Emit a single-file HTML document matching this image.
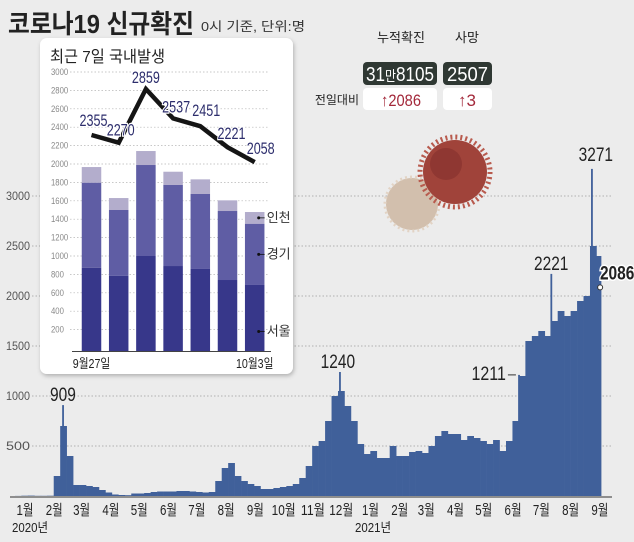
<!DOCTYPE html>
<html><head><meta charset="utf-8"><style>
html,body{margin:0;padding:0;background:#ececec;}
svg{display:block;font-family:"Liberation Sans","Noto Sans CJK KR",sans-serif;}
.kr{font-family:"Liberation Sans","Noto Sans CJK KR",sans-serif;}
</style></head><body>
<svg id="chart" width="634" height="542" viewBox="0 0 634 542" xmlns="http://www.w3.org/2000/svg">
<rect x="0" y="0" width="634" height="542" fill="#ececec"/>
<text class="kr" x="8" y="33" font-size="26" font-weight="bold" fill="#222" textLength="186" lengthAdjust="spacingAndGlyphs">코로나19 신규확진</text>
<text class="kr" x="201" y="31" font-size="13" fill="#333" textLength="104" lengthAdjust="spacingAndGlyphs">0시 기준, 단위:명</text>
<g id="grid"></g>
<g id="bars"></g>
<g id="xaxis"></g>
<g id="peaks"></g>
<g>
<circle cx="412" cy="204" r="26" fill="#d2bfad"/>
<circle cx="412" cy="204" r="27" fill="none" stroke="#e2d3c4" stroke-width="3" stroke-dasharray="2 3"/>
<circle cx="455" cy="172" r="32" fill="#a0433a"/>
<circle cx="455" cy="172" r="35" fill="none" stroke="#b85a4d" stroke-width="5" stroke-dasharray="2 3"/>
<circle cx="446" cy="164" r="16" fill="#7d2c2a" opacity="0.5"/>
</g>
<g>
<text class="kr" x="401" y="42" font-size="13" fill="#222" text-anchor="middle">누적확진</text>
<text class="kr" x="467" y="42" font-size="13" fill="#222" text-anchor="middle">사망</text>
<rect x="363" y="62" width="74" height="23" rx="4" fill="#2f3833"/>
<text x="366" y="81" font-size="20" fill="#fff" textLength="68" lengthAdjust="spacingAndGlyphs">31<tspan class="kr" font-size="14">만</tspan>8105</text>
<rect x="443" y="62" width="49" height="23" rx="4" fill="#2f3833"/>
<text x="447" y="81" font-size="20" fill="#fff" textLength="41" lengthAdjust="spacingAndGlyphs">2507</text>
<text class="kr" x="359" y="104" font-size="12" fill="#222" text-anchor="end">전일대비</text>
<rect x="363" y="88" width="74" height="22" rx="4" fill="#fff"/>
<text x="381" y="106" font-size="17" fill="#a3283a" textLength="40" lengthAdjust="spacingAndGlyphs">↑2086</text>
<rect x="443" y="88" width="49" height="22" rx="4" fill="#fff"/>
<text x="467" y="106" font-size="17" fill="#a3283a" text-anchor="middle">↑3</text>
</g>
<defs><filter id="sh" x="-10%" y="-10%" width="120%" height="120%"><feDropShadow dx="1" dy="2" stdDeviation="2" flood-color="#000" flood-opacity="0.25"/></filter></defs>
<rect x="40" y="38" width="253" height="336" rx="7" fill="#fff" filter="url(#sh)"/>
<text class="kr" x="50" y="62" font-size="16" fill="#222" textLength="115" lengthAdjust="spacingAndGlyphs">최근 7일 국내발생</text>
<g id="inset"></g>
</svg>
<script>
// ---- main chart data ----
const weekStartDays = [];
const weeklyCases = [0,1,3,4,2,2,3,200,700,400,110,110,100,90,60,35,15,10,8,25,25,30,40,45,45,45,50,50,45,40,35,40,150,280,330,200,150,120,100,70,70,80,90,100,120,180,300,500,550,750,1000,1050,900,750,520,420,450,380,380,500,400,400,440,450,430,500,600,650,620,620,560,600,580,550,520,560,450,550,750,1200,1550,1600,1650,1600,1750,1850,1800,1850,1950,2000,2500,2400];
for (let i = 0; i < weeklyCases.length; i++) weekStartDays.push(i * 7);
const peakDays = [59, 359, 553, 588, 632, 641];
const peakValues = [909, 1240, 1211, 2221, 3271, 2086];
const yTicks = [500, 1000, 1500, 2000, 2500, 3000];
const monthLabels = ['1월','2월','3월','4월','5월','6월','7월','8월','9월','10월','11월','12월','1월','2월','3월','4월','5월','6월','7월','8월','9월'];
const monthStartDays = [0,31,60,91,121,152,182,213,244,274,305,335,366,397,425,456,486,517,547,578,609];
const lastDay = 641;
// ---- inset data ----
const insetDates = ['9월27일','','','','','','10월3일'];
const seoul = [873,786,1000,891,859,739,685];
const gyeonggi = [924,714,989,881,815,750,666];
const incheon = [170,130,152,144,159,116,127];
const domestic = [2355,2270,2859,2537,2451,2221,2058];
const insetTicks = [200,400,600,800,1000,1200,1400,1600,1800,2000,2200,2400,2600,2800,3000];

const NS = 'http://www.w3.org/2000/svg';
function mk(tag, attrs, parent, txt){const e=document.createElementNS(NS,tag);for(const k in attrs)e.setAttribute(k,attrs[k]);if(txt!==undefined)e.textContent=txt;parent.appendChild(e);return e;}
const X = d => 8.5 + d * 0.923;
const Y = v => 496 - v * 0.1;
const LX = d => 25 + d * 0.944;

const grid = document.getElementById('grid');
yTicks.forEach(t=>{
  const l=mk('line',{x1:32,x2:612,y1:Y(t),y2:Y(t),stroke:'#9a9a9a','stroke-width':0.8,'stroke-dasharray':'1.5 2'},grid);
  
  
  const tx=mk('text',{x:30,y:Y(t)+4,'font-size':12,fill:'#555','text-anchor':'end',textLength:24,lengthAdjust:'spacingAndGlyphs'},grid,String(t));
  
  
});

const bars = document.getElementById('bars');
weeklyCases.forEach((v,i)=>{
  const d0=weekStartDays[i], d1=Math.min(d0+7,lastDay+1);
  const r=mk('rect',{x:X(d0),y:Y(v),width:X(d1)-X(d0)+0.3,height:Y(0)-Y(v),fill:'#40609a'},bars);
  
  
});
peakDays.forEach((d,i)=>{
  const r=mk('rect',{x:X(d)-0.8,y:Y(peakValues[i]),width:1.8,height:Y(0)-Y(peakValues[i]),fill:'#40609a'},bars);
  
  
});

const xa=document.getElementById('xaxis');
const ax=mk('line',{x1:10,x2:612,y1:497,y2:497,stroke:'#555','stroke-width':1.2},xa);


monthLabels.forEach((m,i)=>{
  const w = m.length>2 ? 24 : 17;
  const t=mk('text',{x:LX(monthStartDays[i])-w/2,y:515,'font-size':15,fill:'#222',textLength:w,lengthAdjust:'spacingAndGlyphs'},xa,m);
  
  
});
const y1=mk('text',{x:12,y:532,'font-size':13,fill:'#222',textLength:36,lengthAdjust:'spacingAndGlyphs'},xa,'2020년');


const y2=mk('text',{x:355,y:532,'font-size':13,fill:'#222',textLength:36,lengthAdjust:'spacingAndGlyphs'},xa,'2021년');



const pk=document.getElementById('peaks');
const pOff=[[0,-4],[-2,-4],[-13,5],[0,-4],[4,-8],[17,-8]];
peakDays.forEach((d,i)=>{
  const v=peakValues[i];
  const s=String(v), w=s.length*8.6;
  let xx=X(d)+pOff[i][0]-w/2, yy=Y(v)+pOff[i][1];
  if(i===2) xx=X(d)-13-w;
  if(i===5){ const c=mk('circle',{cx:X(d),cy:Y(v),r:2.5,fill:'#fff',stroke:'#333','stroke-width':1},pk);
    
    }
  if(i===2){ const l=mk('line',{x1:X(d)-11,x2:X(d)-3,y1:Y(v),y2:Y(v),stroke:'#333','stroke-width':1},pk);
    
    }
  const t=mk('text',{x:xx,y:yy,'font-size':19,fill:'#222',textLength:w,lengthAdjust:'spacingAndGlyphs'},pk,s);
  if(i===5){t.setAttribute('stroke','#fff');t.setAttribute('stroke-width','3');t.setAttribute('paint-order','stroke');t.setAttribute('font-weight','bold');}
  
  
});

// ---- inset ----
const ins=document.getElementById('inset');
const IY = v => 348 - v * 0.092;
const IX = i => 91.5 + i * 27.2;
const bw = 19.5;
insetTicks.forEach(t=>{
  const l=mk('line',{x1:70,x2:268,y1:IY(t),y2:IY(t),stroke:'#b5b5b5','stroke-width':0.7,'stroke-dasharray':'1.5 2'},ins);
  
  
  const tx=mk('text',{x:51,y:IY(t)+3,'font-size':9,fill:'#888',textLength:String(t).length*4.3,lengthAdjust:'spacingAndGlyphs'},ins,String(t));
  
  
});
seoul.forEach((s,i)=>{
  const g=gyeonggi[i], c=incheon[i];
  const r1=mk('rect',{x:IX(i)-bw/2,y:IY(s),width:bw,height:IY(0)-IY(s)+3,fill:'#37378a'},ins);
  
  
  const r2=mk('rect',{x:IX(i)-bw/2,y:IY(s+g),width:bw,height:IY(s)-IY(s+g),fill:'#5f5da4'},ins);
  
  
  const r3=mk('rect',{x:IX(i)-bw/2,y:IY(s+g+c),width:bw,height:IY(s+g)-IY(s+g+c),fill:'#b3adcc'},ins);
  
  
});
const bl=mk('line',{x1:72,x2:271,y1:351.5,y2:351.5,stroke:'#444','stroke-width':1},ins);


insetDates.forEach((d,i)=>{
  if(!d) return;
  const w=d.length*7.5;
  const t=mk('text',{x:IX(i)-w/2,y:368,'font-size':13,fill:'#222',textLength:w,lengthAdjust:'spacingAndGlyphs'},ins,d);
  
  
});
const last=seoul.length-1;
const legY=[IY(seoul[last]+gyeonggi[last]+incheon[last]/2),IY(seoul[last]+gyeonggi[last]/2),IY(seoul[last]/2)+15];
const legN=['인천','경기','서울'];
legN.forEach((n,k)=>{
  const c=mk('circle',{cx:IX(last)+4,cy:legY[k],r:1.5,fill:'#111'},ins);
  
  
  const l=mk('line',{x1:IX(last)+4,x2:IX(last)+10,y1:legY[k],y2:legY[k],stroke:'#111','stroke-width':0.8},ins);
  
  
  const t=mk('text',{x:IX(last)+12,y:legY[k]+4,'font-size':13,fill:'#333',class:'kr'},ins,n);
  
  
});
const LY = v => 350 - v * 0.0913;
let dpath='';
domestic.forEach((v,i)=>{dpath+=(i?'L':'M')+IX(i).toFixed(1)+','+LY(v).toFixed(1);});
const pl=mk('path',{d:dpath,fill:'none',stroke:'#151515','stroke-width':4.5,'stroke-linejoin':'miter'},ins);


const lOff=[[2,-9],[2,-7],[0,-6],[3,-6],[6,-10],[4,-8],[6,-8]];
domestic.forEach((v,i)=>{
  const t=mk('text',{x:IX(i)+lOff[i][0]-14,y:LY(v)+lOff[i][1],'font-size':17,fill:'#2c2d6c',textLength:28,lengthAdjust:'spacingAndGlyphs',stroke:'#fff','stroke-width':2.5,'paint-order':'stroke'},ins,String(v));
  
  
});
</script>
</body></html>
